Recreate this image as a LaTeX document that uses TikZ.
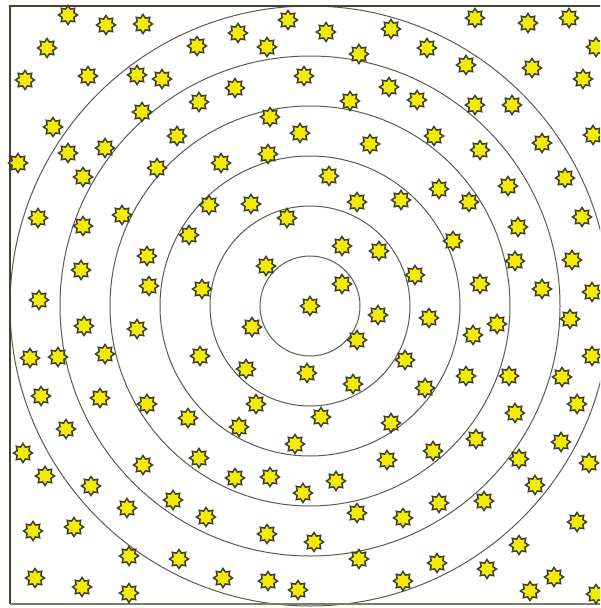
\documentclass[tikz,border=0pt]{standalone}
\usepackage{tikz}
\usetikzlibrary{shapes.geometric}
\definecolor{Frame}{HTML}{45432F}
\definecolor{Ring}{HTML}{5C5B52}
\definecolor{Spark}{HTML}{F2EC00}
\definecolor{Rim}{HTML}{3E3B2C}

\begin{document}
\begin{tikzpicture}[x=1pt,y=-1pt,
  ring/.style={draw=Ring,line width=1pt},
  spark/.style={star,star points=8,star point ratio=1.5,minimum size=19pt,inner sep=0pt,
    fill=Spark,draw=Rim,line width=1.5pt,line join=miter}]
\useasboundingbox (0,0) rectangle (600,608);
\clip (0,0) rectangle (600,608);
\fill[white] (0,0) rectangle (600,608);
\def\cx{310}\def\cy{306}
% concentric rings
\foreach \r in {50,100,...,300}{\draw[ring] (\cx,\cy) circle[radius=\r];}
% frame
\draw[Frame,line width=2.6pt] (10,604) -- (10,6) -- (612,6);
\draw[Frame!70,line width=1.2pt] (10,604) -- (612,604);
% stars
\foreach \x/\y [count=\i] in {68/15,106/25,143/24,47/48,197/46,25/80,88/76,137/75,162/79,199/102,
  142/112,53/127,177/136,68/153,105/148,18/163,83/177,157/168,
  288/20,238/33,326/32,391/29,267/47,359/54,304/76,235/88,389/87,350/101,270/117,300/133,
  370/144,221/163,268/154,329/176,251/204,357/202,401/200,
  475/18,528/23,569/18,596/47,427/48,466/65,532/68,583/79,417/100,475/105,512/105,434/136,
  542/143,593/135,480/150,565/178,508/186,439/189,469/202,
  38/218,83/226,122/215,189/235,147/256,81/270,149/286,202/289,39/300,84/326,137/329,
  30/358,58/357,105/354,200/356,41/396,100/398,147/404,
  209/205,287/218,342/246,379/251,266/266,342/284,310/306,378/315,252/327,357/340,
  246/369,307/373,353/384,405/360,256/404,
  582/217,518/227,453/241,515/261,572/260,415/275,480/284,542/289,592/292,429/318,
  570/319,497/324,473/335,592/356,466/376,509/376,562/377,425/388,577/404,
  188/418,66/429,23/453,143/465,199/458,45/476,91/486,173/500,127/508,33/531,74/527,
  129/556,179/559,35/578,82/587,129/593,
  321/417,391/423,239/427,295/444,387/460,235/478,270/477,336/481,303/493,357/513,
  206/517,403/518,267/534,314/542,359/559,223/578,268/581,298/590,403/581,
  515/413,433/451,476/439,561/442,519/459,589/463,535/485,439/503,484/501,577/522,
  519/545,437/563,487/569,554/577,530/591,596/594}
  {\node[spark] (s\i) at (\x,\y) {};}
\end{tikzpicture}
\end{document}
